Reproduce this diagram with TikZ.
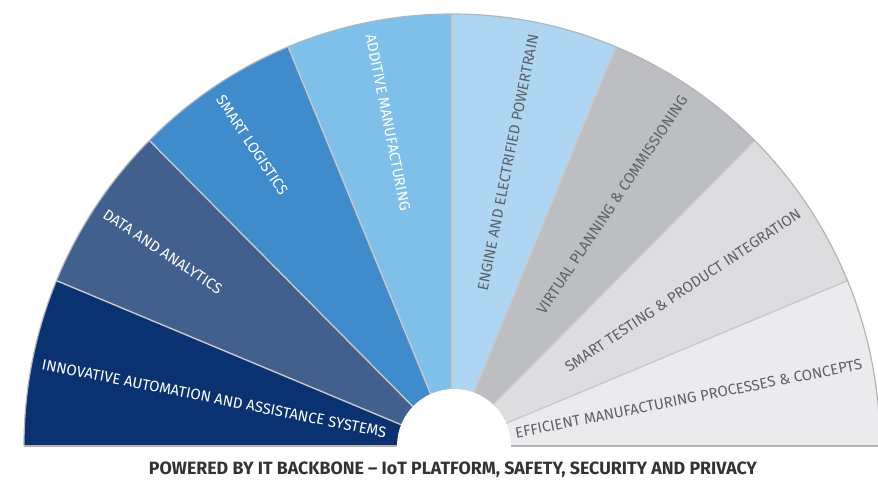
\documentclass[tikz,border=0pt]{standalone}
\usepackage{fontspec}
\setmainfont{Fira Sans}
\usetikzlibrary{calc}
\definecolor{cA}{HTML}{0B3270}
\definecolor{cB}{HTML}{42608E}
\definecolor{cC}{HTML}{3F8BCB}
\definecolor{cD}{HTML}{7EC0E9}
\definecolor{cE}{HTML}{AED5F1}
\definecolor{cF}{HTML}{BDBEC2}
\definecolor{cG}{HTML}{DDDDDF}
\definecolor{cH}{HTML}{EBEBED}
\definecolor{sepgray}{HTML}{C9C9CB}
\definecolor{rimgray}{HTML}{B4B4B6}
\definecolor{txtgray}{HTML}{5E6166}
\definecolor{bandtxt}{HTML}{333333}
\begin{document}
\begin{tikzpicture}[x=1pt,y=1pt,
  lbl/.style={inner sep=0pt, font=\fontsize{15}{16}\selectfont},
  lefttxt/.style={lbl, anchor=west, text=white},
  righttxt/.style={lbl, anchor=east, text=txtgray},
  sepline/.style={draw=sepgray, line width=1.4pt},
  rimline/.style={draw=rimgray, line width=1.2pt}]
\useasboundingbox (0,0) rectangle (878,493);
\fill[white] (0,0) rectangle (878,493);
\coordinate (C) at (452,47);
\coordinate (IC) at (454,47);
\foreach \i/\col in {0/cA,1/cB,2/cC,3/cD,4/cE,5/cF,6/cG,7/cH}{
  \fill[\col] (C) -- ++({180-22.5*\i}:428 and 432)
    arc[start angle={180-22.5*\i}, end angle={180-22.5*(\i+1)}, x radius=428, y radius=432] -- cycle;
}
\foreach \a in {157.5,135,112.5,90,67.5,45,22.5}{
  \draw[sepline] (C) -- ++(\a:428 and 432);
}
\draw[rimline] (C) ++(180:428 and 432) arc[start angle=180, end angle=0, x radius=428, y radius=432];
\draw[rimline] (C) ++(180:428 and 432) -- ++(856,0);
\fill[white] (IC) circle[radius=57];
\fill[white] (0,0) rectangle (878,46.4);

\node[lefttxt, rotate=-11.25] (t1) at ($(C)+(168.75:418 and 420)$) {INNOVATIVE AUTOMATION AND ASSISTANCE SYSTEMS};
\node[lefttxt, rotate=-33.75] (t2) at ($(C)+(146.25:418 and 420)$) {DATA AND ANALYTICS};
\node[lefttxt, rotate=-56.25] (t3) at ($(C)+(123.75:418 and 420)$) {SMART LOGISTICS};
\node[lefttxt, rotate=-78.75] (t4) at ($(C)+(101.25:418 and 420)$) {ADDITIVE MANUFACTURING};
\node[righttxt, rotate=78.75] (t5) at ($(C)+(78.75:418 and 420)$) {ENGINE AND ELECTRIFIED POWERTRAIN};
\node[righttxt, rotate=56.25] (t6) at ($(C)+(56.25:418 and 420)$) {VIRTUAL PLANNING \& COMMISSIONING};
\node[righttxt, rotate=33.75] (t7) at ($(C)+(33.75:418 and 420)$) {SMART TESTING \& PRODUCT INTEGRATION};
\node[righttxt, rotate=11.25] (t8) at ($(C)+(11.25:418 and 420)$) {EFFICIENT MANUFACTURING PROCESSES \& CONCEPTS};

\node[inner sep=0pt, text=bandtxt, font=\bfseries\fontsize{17.8}{19}\selectfont] (band) at (453,23) {POWERED BY IT BACKBONE -- IoT PLATFORM, SAFETY, SECURITY AND PRIVACY};
\end{tikzpicture}
\end{document}
